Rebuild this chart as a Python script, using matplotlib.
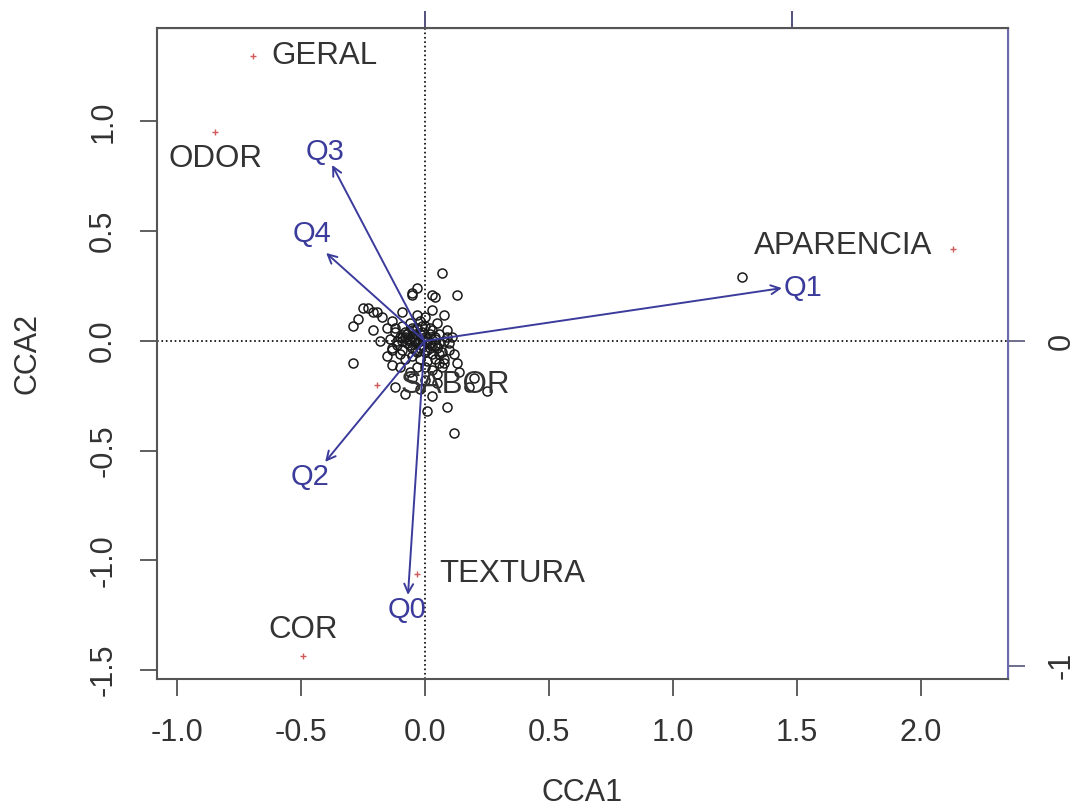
import matplotlib
matplotlib.use("Agg")
import matplotlib.pyplot as plt

plt.rcParams['font.family'] = ['Liberation Sans', 'DejaVu Sans']

# site scores (CCA1, CCA2)
site_x = [1.28, 0.07, 0.03, 0.04, 0.13, -0.03, -0.05, 0.08, 0.03, 0.00,
          -0.29, -0.27, -0.25, -0.23, -0.21, -0.19, -0.17, -0.15, -0.09, -0.05,
          -0.03, -0.13, -0.12, -0.15, -0.13, -0.10, -0.13, 0.10, 0.13, 0.08,
          0.14, 0.09, 0.12, 0.01, -0.12, -0.08, 0.25, -0.29, 0.18, 0.20,
          -0.18, -0.21,
          -0.10, -0.08, -0.06, -0.04, -0.02, 0.00, 0.02, 0.04, 0.06, 0.08,
          -0.11, -0.09, -0.07, -0.05, -0.03, -0.01, 0.01, 0.03, 0.05, 0.07,
          -0.09, -0.06, -0.03, 0.00, 0.03, 0.05, -0.12, 0.09, 0.10, -0.02,
          -0.08, -0.05, -0.02, 0.01, 0.04, 0.06, -0.10, 0.08, 0.02, -0.04,
          0.00, 0.03, -0.03, 0.05, -0.06, 0.07, 0.11, -0.14, -0.13, 0.12,
          -0.01, 0.01, -0.05, 0.04, -0.07, 0.06, -0.02, 0.02, -0.09, 0.09,
          0.00, -0.05, 0.05, 0.03, -0.02,
          -0.07, -0.05, -0.03, -0.01, 0.01, 0.03, -0.06, -0.04, -0.02, 0.02,
          -0.08, -0.06, -0.04, 0.00, 0.04, -0.11, -0.09, 0.06, -0.05, -0.01]
site_y = [0.29, 0.31, 0.21, 0.20, 0.21, 0.24, 0.21, 0.12, 0.14, 0.11,
          0.07, 0.10, 0.15, 0.15, 0.13, 0.13, 0.11, 0.06, 0.13, 0.22,
          0.12, 0.09, 0.06, -0.07, -0.11, -0.12, -0.03, -0.01, -0.10, -0.10,
          -0.14, -0.30, -0.42, -0.32, -0.21, -0.24, -0.23, -0.10, -0.21, -0.17,
          0.00, 0.05,
          0.02, 0.04, 0.01, 0.03, 0.00, 0.02, -0.01, 0.01, 0.03, 0.00,
          -0.02, -0.04, -0.01, -0.03, -0.05, -0.02, -0.04, -0.06, -0.03, -0.05,
          0.07, 0.08, 0.06, 0.07, 0.05, 0.08, 0.04, 0.05, -0.04, 0.09,
          -0.08, -0.07, -0.08, -0.09, -0.08, -0.10, -0.06, -0.08, 0.03, 0.00,
          -0.12, -0.13, -0.12, -0.15, -0.14, -0.12, 0.02, 0.01, -0.04, -0.06,
          0.04, 0.01, 0.05, -0.02, 0.03, -0.01, -0.03, 0.06, 0.00, 0.02,
          -0.18, -0.17, -0.19, -0.25, -0.22,
          0.01, 0.02, -0.01, 0.01, 0.00, -0.02, -0.02, 0.01, 0.03, -0.03,
          0.02, 0.00, -0.04, -0.05, 0.02, 0.00, 0.02, -0.06, 0.06, 0.07]

# species scores
species_names = ['GERAL', 'ODOR', 'APARENCIA', 'SABOR', 'TEXTURA', 'COR']
species_x = [-0.69, -0.845, 2.13, -0.19, -0.03, -0.49]
species_y = [1.30, 0.95, 0.42, -0.20, -1.06, -1.435]

# biplot arrows (environmental variables)
arrow_names = ['Q0', 'Q1', 'Q2', 'Q3', 'Q4']
arrow_x = [-0.067, 1.441, -0.401, -0.373, -0.397]
arrow_y = [-1.157, 0.241, -0.551, 0.802, 0.401]

# scale of the arrow axes (top / right)
arrow_mul = 1.48

blue = '#3b3b9c'
grey = '#333333'

# label placement (offset points, ha, va)
species_pos = {'GERAL': (13, 0, 'left', 'center'),
               'ODOR': (0, -19, 'center', 'center'),
               'APARENCIA': (-15, 2, 'right', 'center'),
               'SABOR': (17, 0, 'left', 'center'),
               'TEXTURA': (16, 0, 'left', 'center'),
               'COR': (0, 19, 'center', 'center')}
arrow_pos = {'Q0': (-1, -11), 'Q1': (15, 0), 'Q2': (-11, -11),
             'Q3': (-5, 9), 'Q4': (-10, 14)}


def main():
    fig = plt.figure(figsize=(10.77, 8.09), dpi=100)
    ax = fig.add_axes([0.1458, 0.1607, 0.7902, 0.8047])

    ax.plot(site_x, site_y, 'o', mfc='none', mec='#1a1a1a', ms=6.5, mew=1.1, zorder=2)

    ax.axhline(0, color='black', ls=':', lw=1.2, zorder=1)
    ax.axvline(0, color='black', ls=':', lw=1.2, zorder=1)

    for name, x, y in zip(arrow_names, arrow_x, arrow_y):
        ax.annotate('', xy=(x, y), xytext=(0, 0),
                    arrowprops=dict(arrowstyle='->', color=blue, lw=1.4,
                                    mutation_scale=16, shrinkA=0, shrinkB=0),
                    zorder=3)
        dx, dy = arrow_pos[name]
        ax.annotate(name, xy=(x, y), xytext=(dx, dy), textcoords='offset points',
                    ha='center', va='center', color=blue, fontsize=21)

    ax.plot(species_x, species_y, '+', color='#d05a5a', ms=5, mew=1.0, zorder=4)
    for name, x, y in zip(species_names, species_x, species_y):
        dx, dy, ha, va = species_pos[name]
        ax.annotate(name, xy=(x, y), xytext=(dx, dy), textcoords='offset points',
                    ha=ha, va=va, color=grey, fontsize=22.5)

    ax.set_xlim(-1.079, 2.353)
    ax.set_ylim(-1.540, 1.426)
    ax.set_xticks([-1.0, -0.5, 0.0, 0.5, 1.0, 1.5, 2.0])
    ax.set_yticks([-1.5, -1.0, -0.5, 0.0, 0.5, 1.0])
    ax.set_xticklabels(['-1.0', '-0.5', '0.0', '0.5', '1.0', '1.5', '2.0'])
    ax.set_yticklabels(['-1.5', '-1.0', '-0.5', '0.0', '0.5', '1.0'],
                       rotation=90, va='center')
    ax.tick_params(axis='both', length=12, width=1.2, color='#444444',
                   labelsize=22, labelcolor=grey, pad=16)
    for s in ['left', 'bottom', 'top']:
        ax.spines[s].set_color('#555555')
        ax.spines[s].set_linewidth(1.5)
    ax.spines['right'].set_color('#6a6ab0')
    ax.spines['right'].set_linewidth(1.5)

    ax.set_xlabel('CCA1', fontsize=22, color=grey, labelpad=22)
    ax.set_ylabel('CCA2', fontsize=22, color=grey, labelpad=33)

    top = ax.secondary_xaxis('top', functions=(lambda v: v / arrow_mul,
                                               lambda v: v * arrow_mul))
    top.set_xticks([0, 1])
    top.tick_params(length=12, width=1.2, color='#333366', labeltop=False)

    right = ax.secondary_yaxis('right', functions=(lambda v: v / arrow_mul,
                                                   lambda v: v * arrow_mul))
    right.set_yticks([-1, 0])
    right.set_yticklabels(['-1', '0'], rotation=90, va='center')
    right.tick_params(length=12, width=1.2, color='#555577',
                      labelsize=22, labelcolor=grey, pad=16)

    fig.savefig('out.png', dpi=100)


if __name__ == "__main__":
    main()
